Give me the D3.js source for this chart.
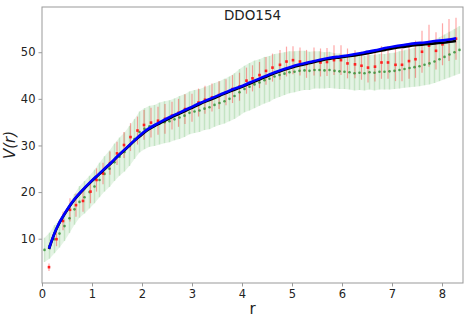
<!DOCTYPE html>
<html>
<head>
<meta charset="utf-8">
<script src="https://cdn.jsdelivr.net/npm/d3@7"></script>
<style>
  body { margin: 0; background: #fff; }
  text { font-family: "DejaVu Sans", sans-serif; }
</style>
</head>
<body>
<div id="chart"></div>
<script>
// observed rotation curve (green, dense) with error band
var greenR = [0.05,0.15,0.25,0.35,0.45,0.55,0.65,0.75,0.85,0.95,
              1.05,1.15,1.25,1.35,1.45,1.55,1.65,1.75,1.85,1.95,
              2.05,2.15,2.25,2.35,2.45,2.55,2.65,2.75,2.85,2.95,
              3.05,3.15,3.25,3.35,3.45,3.55,3.65,3.75,3.85,3.95,
              4.05,4.15,4.25,4.35,4.45,4.55,4.65,4.75,4.85,4.95,
              5.05,5.15,5.25,5.35,5.45,5.55,5.65,5.75,5.85,5.95,
              6.05,6.15,6.25,6.35,6.45,6.55,6.65,6.75,6.85,6.95,
              7.05,7.15,7.25,7.35,7.45,7.55,7.65,7.75,7.85,7.95,
              8.05,8.15,8.25,8.35];
var greenV = [7.6,8.5,9.9,11.1,12.7,14.4,16.3,17.9,18.9,20.0,
              21.2,22.6,23.9,25.0,26.4,27.6,28.6,29.9,31.4,32.9,
              33.6,34.1,34.3,34.7,35.0,35.2,35.6,36.0,36.4,37.0,
              37.3,37.5,37.9,38.2,38.7,39.1,39.5,40.0,40.6,41.4,
              42.1,42.6,43.1,43.5,44.0,44.3,44.8,45.1,45.4,45.7,
              45.8,46.0,46.1,46.0,46.2,46.2,46.1,46.2,46.0,45.9,
              45.8,45.7,45.5,45.6,45.5,45.7,45.6,45.8,45.8,45.9,
              46.0,46.2,46.4,46.6,46.8,47.0,47.3,47.6,48.0,48.5,
              49.0,49.5,50.0,50.5];
var greenErr = [2.6,2.8,3.0,3.0,3.2,3.2,3.3,3.4,3.5,3.5,
                3.6,3.7,3.8,3.9,4.0,4.1,4.2,4.3,4.3,4.4,
                4.4,4.4,4.4,4.5,4.5,4.5,4.5,4.6,4.6,4.6,
                4.6,4.6,4.6,4.7,4.7,4.7,4.8,4.8,4.9,5.0,
                5.0,5.1,5.1,5.0,5.0,4.9,4.8,4.7,4.6,4.5,
                4.4,4.3,4.2,4.1,4.0,4.0,3.9,3.9,3.8,3.8,
                3.7,3.7,3.7,3.7,3.7,3.7,3.8,3.8,3.8,3.9,
                3.9,4.0,4.0,4.1,4.2,4.3,4.4,4.5,4.6,4.7,
                4.8,4.9,5.0,5.1];

// red measured points with error bars
var redR = [0.14,0.29,0.42,0.56,0.68,0.82,0.97,1.09,1.22,1.36,
            1.50,1.64,1.77,1.91,2.04,2.18,2.32,2.46,2.60,2.73,
            2.86,3.00,3.13,3.26,3.40,3.54,3.68,3.81,3.95,4.09,
            4.21,4.35,4.48,4.61,4.76,4.89,5.02,5.16,5.29,5.44,
            5.57,5.70,5.84,5.98,6.11,6.26,6.39,6.52,6.66,6.79,
            6.92,7.07,7.20,7.34,7.47,7.60,7.74,7.88,8.01,8.14,
            8.28];
var redV = [3.9,9.9,13.8,16.2,17.2,18.1,20.1,22.6,24.0,26.2,
            28.3,30.1,31.8,33.2,34.4,34.9,35.3,35.7,36.4,37.0,
            37.8,38.1,39.2,39.8,40.3,40.8,41.4,42.1,42.6,43.9,
            44.4,45.1,46.0,46.7,47.3,48.0,48.3,48.0,47.5,48.0,
            47.8,47.9,48.3,48.3,47.6,47.4,47.1,46.7,46.9,47.8,
            47.8,47.3,47.3,48.1,48.5,50.1,51.4,50.3,51.7,52.6,
            52.9];
var redErr = [0.8,1.5,2.0,2.5,2.5,2.3,2.5,2.5,2.3,2.5,
              2.5,2.8,3.0,3.0,3.2,3.2,3.0,3.2,3.0,3.0,
              3.2,3.0,3.0,3.0,3.0,3.0,2.8,3.0,3.0,2.8,
              2.8,2.8,3.0,3.0,3.2,3.2,3.0,3.0,3.0,3.0,
              3.0,3.0,3.2,3.2,3.2,3.0,3.0,3.2,3.2,3.5,
              3.5,3.5,3.5,3.8,4.0,4.5,4.5,4.0,4.5,4.5,
              4.5];

// model curves
var modelR = [0.14,0.25,0.33,0.43,0.53,0.62,0.72,0.85,0.99,1.13,
              1.26,1.39,1.52,1.70,1.86,1.96,2.10,2.36,2.56,2.76,
              2.96,3.16,3.36,3.56,3.76,3.96,4.16,4.36,4.56,4.76,
              4.96,5.16,5.36,5.56,5.76,5.96,6.16,6.46,6.66,6.86,
              7.06,7.26,7.46,7.66,7.86,8.06,8.28];
var blueV = [7.9,11.2,13.1,15.0,16.7,18.1,19.4,20.9,22.4,23.8,
             25.1,26.4,27.8,29.6,31.2,32.2,33.4,35.0,36.1,37.1,
             38.1,39.1,40.0,40.9,41.8,42.6,43.5,44.4,45.3,46.1,
             46.8,47.4,47.9,48.4,48.8,49.1,49.4,50.0,50.4,50.9,
             51.3,51.6,51.9,52.1,52.4,52.6,53.0];
var blackV = [7.8,11.1,13.0,14.9,16.6,18.0,19.3,20.8,22.3,23.7,
              25.0,26.3,27.7,29.5,31.1,32.0,33.2,34.8,35.9,36.9,
              37.9,38.9,39.8,40.7,41.6,42.4,43.3,44.2,45.1,45.9,
              46.6,47.2,47.7,48.2,48.6,48.9,49.2,49.7,50.1,50.5,
              50.9,51.2,51.5,51.7,51.9,52.1,52.4];

var xTicks = [0,1,2,3,4,5,6,7,8];
var yTicks = [10,20,30,40,50];
var chartTitle = "DDO154";

var width = 471, height = 322;
var margin = {top: 7, right: 8, bottom: 39, left: 42};

var svg = d3.select("#chart").append("svg")
    .attr("width", width)
    .attr("height", height);

var x = d3.scaleLinear().domain([0, 8.42]).range([margin.left, width - margin.right]);
var y = d3.scaleLinear().domain([0.5, 59.7]).range([height - margin.bottom, margin.top]);

var plot = svg.append("g");

var green = greenR.map(function(r, i) { return {r: r, v: greenV[i], e: greenErr[i]}; });
var red = redR.map(function(r, i) { return {r: r, v: redV[i], e: redErr[i]}; });

// green band
var area = d3.area()
    .x(function(d) { return x(d.r); })
    .y0(function(d) { return y(d.v - d.e); })
    .y1(function(d) { return y(d.v + d.e); });

plot.append("path")
    .datum(green)
    .attr("d", area)
    .attr("fill", "#2ca02c")
    .attr("fill-opacity", 0.13);

plot.selectAll("line.gerr").data(green).enter().append("line")
    .attr("class", "gerr")
    .attr("x1", function(d) { return x(d.r); })
    .attr("x2", function(d) { return x(d.r); })
    .attr("y1", function(d) { return y(d.v - d.e); })
    .attr("y2", function(d) { return y(d.v + d.e); })
    .attr("stroke", "#2ca02c")
    .attr("stroke-opacity", 0.18)
    .attr("stroke-width", 1.5);

// red error bars
plot.selectAll("line.rerr").data(red).enter().append("line")
    .attr("class", "rerr")
    .attr("x1", function(d) { return x(d.r); })
    .attr("x2", function(d) { return x(d.r); })
    .attr("y1", function(d) { return y(d.v - d.e); })
    .attr("y2", function(d) { return y(d.v + d.e); })
    .attr("stroke", "#ff0000")
    .attr("stroke-opacity", 0.35)
    .attr("stroke-width", 1.2);

// green dots
plot.selectAll("circle.gdot").data(green).enter().append("circle")
    .attr("class", "gdot")
    .attr("cx", function(d) { return x(d.r); })
    .attr("cy", function(d) { return y(d.v); })
    .attr("r", 1.3)
    .attr("fill", "#2e8b2e")
    .attr("fill-opacity", 0.8);

// red dots
plot.selectAll("rect.rdot").data(red).enter().append("rect")
    .attr("class", "rdot")
    .attr("x", function(d) { return x(d.r) - 1.3; })
    .attr("y", function(d) { return y(d.v) - 1.3; })
    .attr("width", 2.6)
    .attr("height", 2.6)
    .attr("fill", "#ff2020");

// model lines
var line = d3.line()
    .x(function(d) { return x(d[0]); })
    .y(function(d) { return y(d[1]); })
    .curve(d3.curveMonotoneX);

plot.append("path")
    .datum(modelR.map(function(r, i) { return [r, blackV[i]]; }))
    .attr("d", line)
    .attr("fill", "none")
    .attr("stroke", "#000")
    .attr("stroke-width", 2.6);

plot.append("path")
    .datum(modelR.map(function(r, i) { return [r, blueV[i]]; }))
    .attr("d", line)
    .attr("fill", "none")
    .attr("stroke", "#0000ff")
    .attr("stroke-width", 2.6);

// axes
var xAxis = svg.append("g")
    .attr("transform", "translate(0," + (height - margin.bottom) + ")")
    .call(d3.axisBottom(x).tickValues(xTicks).tickSize(3.5).tickPadding(3).tickFormat(d3.format("d")));

var yAxis = svg.append("g")
    .attr("transform", "translate(" + margin.left + ",0)")
    .call(d3.axisLeft(y).tickValues(yTicks).tickSize(3.5).tickPadding(3).tickFormat(d3.format("d")));

[xAxis, yAxis].forEach(function(ax) {
    ax.select(".domain").remove();
    ax.selectAll("line").attr("stroke", "#999");
    ax.selectAll("text").attr("font-size", "11.5px").attr("fill", "#222")
        .style("font-family", "DejaVu Sans, sans-serif");
});

// frame
svg.append("rect")
    .attr("x", margin.left)
    .attr("y", margin.top)
    .attr("width", width - margin.left - margin.right)
    .attr("height", height - margin.top - margin.bottom)
    .attr("fill", "none")
    .attr("stroke", "#999")
    .attr("stroke-width", 1);

svg.append("text")
    .attr("x", (margin.left + width - margin.right) / 2)
    .attr("y", 20)
    .attr("text-anchor", "middle")
    .attr("font-size", "13.5px")
    .attr("fill", "#222")
    .text(chartTitle);

svg.append("text")
    .attr("x", (margin.left + width - margin.right) / 2)
    .attr("y", 314)
    .attr("text-anchor", "middle")
    .attr("font-size", "15px")
    .attr("fill", "#222")
    .text("r");

svg.append("text")
    .attr("transform", "translate(15," + ((margin.top + height - margin.bottom) / 2) + ") rotate(-90)")
    .attr("text-anchor", "middle")
    .attr("font-size", "15px")
    .attr("font-style", "italic")
    .attr("fill", "#222")
    .text("V(r)");
</script>
</body>
</html>
